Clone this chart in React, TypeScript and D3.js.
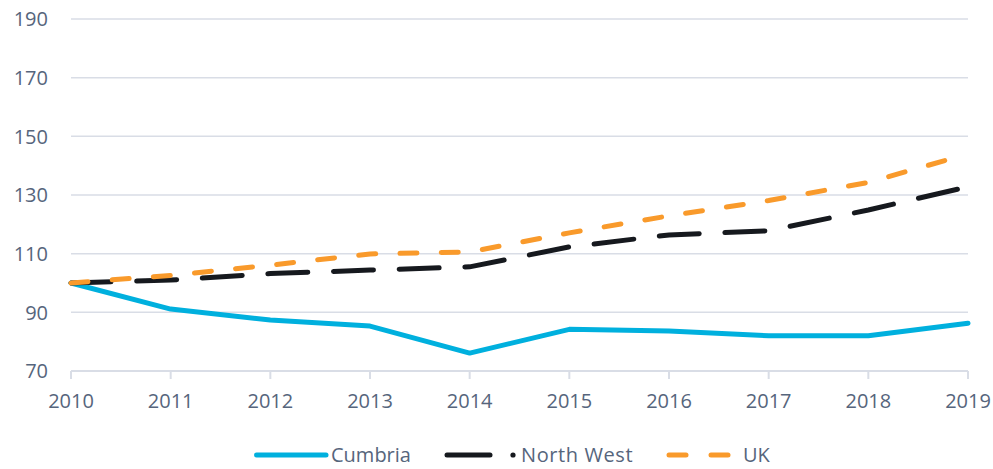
import React from "react";
import * as d3 from "d3";

const years = [2010, 2011, 2012, 2013, 2014, 2015, 2016, 2017, 2018, 2019];
const cumbria = [100, 91.1, 87.4, 85.3, 76.1, 84.2, 83.6, 82, 82, 86.3];
const northWest = [100, 101, 103.2, 104.4, 105.5, 112.3, 116.4, 117.8, 124.9, 132.8];
const uk = [100, 102.6, 106.1, 109.9, 110.6, 117.1, 122.9, 128.1, 134.3, 144];
const yTicks = [70, 90, 110, 130, 150, 170, 190];

const W = 993;
const H = 469;
const FONT = "'Open Sans', 'Noto Sans', sans-serif";
const TEXT = "#56657c";
const GRID = "#d9dde6";
const FS = 20;

export default function App() {
  const x = d3.scalePoint<number>().domain(years).range([71, 968]);
  const y = d3.scaleLinear().domain([70, 190]).range([371, 19]);
  const line = d3
    .line<number>()
    .x((_, i) => x(years[i]) as number)
    .y((d) => y(d));

  return (
    <svg
      width={W}
      height={H}
      style={{ position: "absolute", left: 0, top: 0, background: "#fff" }}
      fontFamily={FONT}
    >
      {yTicks.map((t) => (
        <g key={t}>
          {t !== 70 && (
            <line x1={71} x2={968} y1={y(t)} y2={y(t)} stroke={GRID} strokeWidth={1.5} />
          )}
          <text x={48} y={y(t)} dy="0.36em" textAnchor="end" fontSize={FS} fill={TEXT}>
            {t}
          </text>
        </g>
      ))}
      <line x1={71} x2={968} y1={y(70)} y2={y(70)} stroke={GRID} strokeWidth={2} />
      {years.map((yr) => (
        <g key={yr}>
          <line
            x1={x(yr)}
            x2={x(yr)}
            y1={y(70)}
            y2={y(70) + 8}
            stroke={GRID}
            strokeWidth={2}
          />
          <text x={x(yr)} y={408} textAnchor="middle" fontSize={FS} fill={TEXT}>
            {yr}
          </text>
        </g>
      ))}
      <path d={line(cumbria) || ""} fill="none" stroke="#00b0de" strokeWidth={5} strokeLinejoin="round" strokeLinecap="round" />
      <path
        d={line(northWest) || ""}
        fill="none"
        stroke="#16191e"
        strokeWidth={5}
        strokeLinecap="round"
        strokeDasharray="40 25.7"
      />
      <path
        d={line(uk) || ""}
        fill="none"
        stroke="#f99a2b"
        strokeWidth={5}
        strokeLinecap="round"
        strokeDasharray="17 24.3"
      />
      {/* legend */}
      <g>
        <line x1={256.5} x2={326} y1={455} y2={455} stroke="#00b0de" strokeWidth={5} strokeLinecap="round" />
        <text x={331} y={455} dy="0.36em" fontSize={FS} fill={TEXT}>Cumbria</text>
        <line x1={447} x2={490} y1={455} y2={455} stroke="#16191e" strokeWidth={5} strokeLinecap="round" />
        <circle cx={513} cy={455} r={2.6} fill="#16191e" />
        <text x={521} y={455} dy="0.36em" fontSize={FS} fill={TEXT} letterSpacing={0.6}>North West</text>
        <line x1={669} x2={686} y1={455} y2={455} stroke="#f99a2b" strokeWidth={5} strokeLinecap="round" />
        <line x1={711} x2={728} y1={455} y2={455} stroke="#f99a2b" strokeWidth={5} strokeLinecap="round" />
        <text x={743} y={455} dy="0.36em" fontSize={FS} fill={TEXT}>UK</text>
      </g>
    </svg>
  );
}
